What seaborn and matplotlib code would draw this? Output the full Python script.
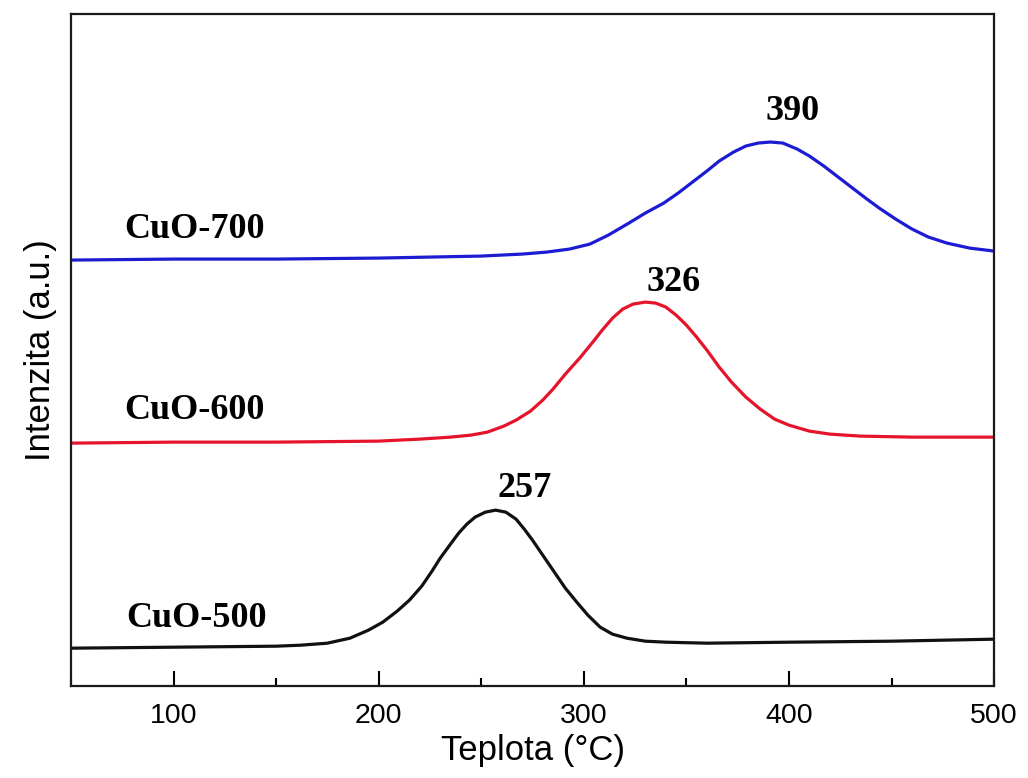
import numpy as np
import pandas as pd
import matplotlib
matplotlib.use("Agg")
import matplotlib.pyplot as plt
import seaborn as sns
from matplotlib.ticker import MultipleLocator

# temperatures (°C) and intensities (a.u.)
temp_500 = [50, 100, 150, 162, 175, 186, 195, 202, 209, 215, 221, 226, 230, 235, 239,
            243, 247, 252, 257, 262, 267, 271, 275, 280, 285, 291, 297, 302, 308, 314,
            321, 330, 340, 360, 400, 450, 500]
int_500 = [0.38, 0.39, 0.40, 0.41, 0.43, 0.48, 0.56, 0.64, 0.75, 0.86, 1.00, 1.15, 1.28, 1.42, 1.53,
           1.62, 1.69, 1.74, 1.76, 1.74, 1.67, 1.57, 1.46, 1.31, 1.16, 0.98, 0.83, 0.71, 0.59, 0.52,
           0.48, 0.45, 0.44, 0.43, 0.44, 0.45, 0.47]

temp_600 = [50, 100, 150, 200, 220, 235, 245, 253, 261, 267, 274, 280, 285, 291, 298,
            304, 309, 314, 319, 324, 330, 335, 340, 345, 350, 355, 360, 366, 372, 379,
            386, 393, 400, 410, 420, 435, 460, 500]
int_600 = [2.43, 2.44, 2.44, 2.45, 2.47, 2.49, 2.51, 2.54, 2.60, 2.66, 2.75, 2.86, 2.97, 3.12, 3.28,
           3.43, 3.56, 3.68, 3.77, 3.82, 3.84, 3.83, 3.79, 3.71, 3.61, 3.49, 3.36, 3.19, 3.04, 2.89,
           2.77, 2.67, 2.61, 2.55, 2.52, 2.50, 2.49, 2.49]

temp_700 = [50, 100, 150, 200, 250, 270, 282, 293, 303, 312, 322, 330, 339, 346, 353,
            360, 366, 373, 379, 385, 391, 397, 404, 410, 417, 424, 431, 438, 444, 452,
            460, 468, 477, 488, 500]
int_700 = [4.26, 4.27, 4.27, 4.28, 4.30, 4.32, 4.34, 4.37, 4.42, 4.51, 4.63, 4.73, 4.83, 4.93, 5.04,
           5.15, 5.25, 5.34, 5.40, 5.43, 5.44, 5.43, 5.37, 5.30, 5.20, 5.09, 4.98, 4.87, 4.78, 4.67,
           4.57, 4.49, 4.43, 4.38, 4.35]

samples = ["CuO-500", "CuO-600", "CuO-700"]
peak_temps = ["257", "326", "390"]
colors = {"CuO-500": "#111111", "CuO-600": "#e5142a", "CuO-700": "#1c1cd2"}

df = pd.concat([
    pd.DataFrame({"temp": temp_500, "intensity": int_500, "sample": "CuO-500"}),
    pd.DataFrame({"temp": temp_600, "intensity": int_600, "sample": "CuO-600"}),
    pd.DataFrame({"temp": temp_700, "intensity": int_700, "sample": "CuO-700"}),
])

sns.set_style("ticks")
plt.rcParams["font.family"] = ["Liberation Sans", "DejaVu Sans"]
plt.rcParams["text.color"] = "black"
plt.rcParams["axes.labelcolor"] = "black"
plt.rcParams["xtick.color"] = "black"

fig = plt.figure(figsize=(10.28, 7.78), dpi=100)
ax = fig.add_axes([0.069, 0.118, 0.898, 0.864])

sns.lineplot(data=df, x="temp", y="intensity", hue="sample", palette=colors,
             linewidth=2.3, legend=False, ax=ax)

ax.set_xlim(50, 500)
ax.set_ylim(0, 6.72)
ax.set_yticks([])
ax.xaxis.set_major_locator(MultipleLocator(100))
ax.xaxis.set_minor_locator(MultipleLocator(50))
ax.tick_params(axis="x", which="major", direction="in", length=11, width=1.5,
               labelsize=20.5, pad=12, top=False, colors="black")
ax.tick_params(axis="x", which="minor", direction="in", length=6, width=1.5, top=False)
for s in ax.spines.values():
    s.set_linewidth(1.6)
    s.set_color("#1a1a1a")

ax.set_xlabel("Teplota (°C)", fontsize=25, labelpad=4)
ax.set_ylabel("Intenzita (a.u.)", fontsize=25, labelpad=10)

# sample names and peak positions
bold = dict(family=["Liberation Serif", "DejaVu Serif"], fontweight="bold", fontsize=26,
            color="black")
ax.text(77, 0.68, samples[0], ha="left", va="center", **bold)
ax.text(76, 2.76, samples[1], ha="left", va="center", **bold)
ax.text(76, 4.57, samples[2], ha="left", va="center", **bold)
ax.text(271, 1.98, peak_temps[0], ha="center", va="center", **bold)
ax.text(344, 4.04, peak_temps[1], ha="center", va="center", **bold)
ax.text(402, 5.75, peak_temps[2], ha="center", va="center", **bold)

fig.savefig("out.png", dpi=100)
